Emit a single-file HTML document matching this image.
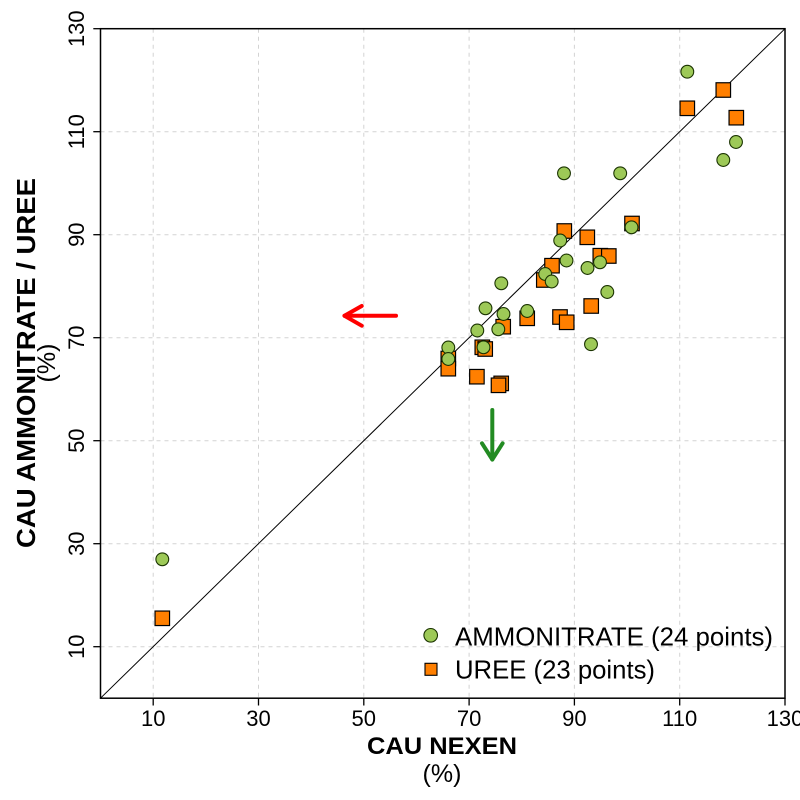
<!DOCTYPE html>
<html>
<head>
<meta charset="utf-8">
<style>
  html,body{margin:0;padding:0;background:#fff;}
  svg{display:block;font-family:"Liberation Sans",Arial,sans-serif;}
</style>
</head>
<body>
<svg width="800" height="800" viewBox="0 0 800 800" xmlns="http://www.w3.org/2000/svg">
  <rect x="0" y="0" width="800" height="800" fill="#fff"/>
  <!-- grid -->
  <g stroke="#d3d3d3" stroke-width="1" stroke-dasharray="4,4" fill="none">
    <line x1="153.2" y1="28.7" x2="153.2" y2="698.2"/>
    <line x1="258.5" y1="28.7" x2="258.5" y2="698.2"/>
    <line x1="363.8" y1="28.7" x2="363.8" y2="698.2"/>
    <line x1="469.1" y1="28.7" x2="469.1" y2="698.2"/>
    <line x1="574.4" y1="28.7" x2="574.4" y2="698.2"/>
    <line x1="679.7" y1="28.7" x2="679.7" y2="698.2"/>
    <line x1="100.5" y1="646.7" x2="785" y2="646.7"/>
    <line x1="100.5" y1="543.7" x2="785" y2="543.7"/>
    <line x1="100.5" y1="440.7" x2="785" y2="440.7"/>
    <line x1="100.5" y1="337.7" x2="785" y2="337.7"/>
    <line x1="100.5" y1="234.7" x2="785" y2="234.7"/>
    <line x1="100.5" y1="131.7" x2="785" y2="131.7"/>
  </g>
  <!-- diagonal -->
  <line x1="100.5" y1="698.2" x2="785" y2="28.7" stroke="#000" stroke-width="1"/>

  <!-- squares (UREE) -->
  <g fill="#FF7F00" stroke="#000" stroke-width="1.2">
    <rect x="155.05" y="611.05" width="14.5" height="14.5"/>
    <rect x="441.05" y="351.25" width="14.5" height="14.5"/>
    <rect x="441.05" y="361.45" width="14.5" height="14.5"/>
    <rect x="469.65" y="369.45" width="14.5" height="14.5"/>
    <rect x="493.95" y="376.15" width="14.5" height="14.5"/>
    <rect x="491.25" y="378.05" width="14.5" height="14.5"/>
    <rect x="475.05" y="340.05" width="14.5" height="14.5"/>
    <rect x="477.95" y="341.75" width="14.5" height="14.5"/>
    <rect x="495.95" y="319.45" width="14.5" height="14.5"/>
    <rect x="519.95" y="311.05" width="14.5" height="14.5"/>
    <rect x="536.55" y="272.75" width="14.5" height="14.5"/>
    <rect x="544.75" y="258.45" width="14.5" height="14.5"/>
    <rect x="552.75" y="309.75" width="14.5" height="14.5"/>
    <rect x="559.45" y="315.05" width="14.5" height="14.5"/>
    <rect x="557.05" y="223.75" width="14.5" height="14.5"/>
    <rect x="580.05" y="230.05" width="14.5" height="14.5"/>
    <rect x="583.95" y="298.75" width="14.5" height="14.5"/>
    <rect x="593.05" y="248.45" width="14.5" height="14.5"/>
    <rect x="601.55" y="248.75" width="14.5" height="14.5"/>
    <rect x="624.75" y="216.25" width="14.5" height="14.5"/>
    <rect x="680.05" y="101.05" width="14.5" height="14.5"/>
    <rect x="716.05" y="82.75" width="14.5" height="14.5"/>
    <rect x="729.05" y="110.45" width="14.5" height="14.5"/>
  </g>

  <!-- circles (AMMONITRATE) -->
  <g fill="#9DC957" stroke="#1a3300" stroke-width="1.1">
    <circle cx="162.3" cy="559.3" r="6.4"/>
    <circle cx="448.3" cy="347.5" r="6.4"/>
    <circle cx="448.3" cy="359" r="6.4"/>
    <circle cx="477.3" cy="330.5" r="6.4"/>
    <circle cx="483.5" cy="347.3" r="6.4"/>
    <circle cx="485.5" cy="308.3" r="6.4"/>
    <circle cx="498.3" cy="329.3" r="6.4"/>
    <circle cx="501.3" cy="283.3" r="6.4"/>
    <circle cx="503.5" cy="314" r="6.4"/>
    <circle cx="527.2" cy="311" r="6.4"/>
    <circle cx="545.2" cy="274" r="6.4"/>
    <circle cx="551.7" cy="281.5" r="6.4"/>
    <circle cx="560.2" cy="240.5" r="6.4"/>
    <circle cx="564" cy="173.3" r="6.4"/>
    <circle cx="566.5" cy="260.5" r="6.4"/>
    <circle cx="587.5" cy="268" r="6.4"/>
    <circle cx="591" cy="344.2" r="6.4"/>
    <circle cx="600" cy="262.3" r="6.4"/>
    <circle cx="607.3" cy="292" r="6.4"/>
    <circle cx="620.2" cy="173.3" r="6.4"/>
    <circle cx="631.5" cy="227.3" r="6.4"/>
    <circle cx="687.3" cy="71.7" r="6.4"/>
    <circle cx="723.3" cy="160" r="6.4"/>
    <circle cx="736" cy="142" r="6.4"/>
  </g>

  <!-- arrows -->
  <g stroke="#FF0000" stroke-width="4" fill="none" stroke-linecap="round">
    <line x1="396" y1="315.8" x2="345" y2="315.8"/>
    <line x1="344.5" y1="315.8" x2="361.7" y2="306"/>
    <line x1="344.5" y1="315.8" x2="361.7" y2="325.7"/>
  </g>
  <g stroke="#228B22" stroke-width="4" fill="none" stroke-linecap="round">
    <line x1="492.3" y1="410" x2="492.3" y2="459"/>
    <line x1="492.3" y1="459.5" x2="482" y2="443.3"/>
    <line x1="492.3" y1="459.5" x2="502.6" y2="443.3"/>
  </g>

  <!-- box -->
  <rect x="100.5" y="28.7" width="684.5" height="669.5" fill="none" stroke="#000" stroke-width="1.5"/>

  <!-- ticks -->
  <g stroke="#000" stroke-width="1.3">
    <line x1="153.2" y1="698.2" x2="153.2" y2="705.5"/>
    <line x1="258.5" y1="698.2" x2="258.5" y2="705.5"/>
    <line x1="363.8" y1="698.2" x2="363.8" y2="705.5"/>
    <line x1="469.1" y1="698.2" x2="469.1" y2="705.5"/>
    <line x1="574.4" y1="698.2" x2="574.4" y2="705.5"/>
    <line x1="679.7" y1="698.2" x2="679.7" y2="705.5"/>
    <line x1="785" y1="698.2" x2="785" y2="705.5"/>
    <line x1="93.3" y1="646.7" x2="100.5" y2="646.7"/>
    <line x1="93.3" y1="543.7" x2="100.5" y2="543.7"/>
    <line x1="93.3" y1="440.7" x2="100.5" y2="440.7"/>
    <line x1="93.3" y1="337.7" x2="100.5" y2="337.7"/>
    <line x1="93.3" y1="234.7" x2="100.5" y2="234.7"/>
    <line x1="93.3" y1="131.7" x2="100.5" y2="131.7"/>
    <line x1="93.3" y1="28.7" x2="100.5" y2="28.7"/>
  </g>

  <!-- x tick labels -->
  <g font-size="22" fill="#000" text-anchor="middle">
    <text x="153.2" y="726">10</text>
    <text x="258.5" y="726">30</text>
    <text x="363.8" y="726">50</text>
    <text x="469.1" y="726">70</text>
    <text x="574.4" y="726">90</text>
    <text x="679.7" y="726">110</text>
    <text x="785" y="726">130</text>
  </g>
  <!-- y tick labels -->
  <g font-size="22" fill="#000" text-anchor="middle">
    <text transform="translate(84,646.7) rotate(-90)">10</text>
    <text transform="translate(84,543.7) rotate(-90)">30</text>
    <text transform="translate(84,440.7) rotate(-90)">50</text>
    <text transform="translate(84,337.7) rotate(-90)">70</text>
    <text transform="translate(84,234.7) rotate(-90)">90</text>
    <text transform="translate(84,131.7) rotate(-90)">110</text>
    <text transform="translate(84,28.7) rotate(-90)">130</text>
  </g>

  <!-- axis titles -->
  <text x="442" y="754" font-size="24" font-weight="bold" text-anchor="middle" textLength="150" lengthAdjust="spacingAndGlyphs">CAU NEXEN</text>
  <text x="442" y="782" font-size="25" text-anchor="middle">(%)</text>
  <text transform="translate(35,363) rotate(-90)" font-size="26" font-weight="bold" text-anchor="middle" textLength="370" lengthAdjust="spacingAndGlyphs">CAU AMMONITRATE / UREE</text>
  <text transform="translate(55,363) rotate(-90)" font-size="25" text-anchor="middle">(%)</text>

  <!-- legend -->
  <circle cx="430.7" cy="635.3" r="6.8" fill="#9DC957" stroke="#1a3300" stroke-width="1.1"/>
  <rect x="425" y="663.3" width="12" height="12" fill="#FF7F00" stroke="#000" stroke-width="1.1"/>
  <text x="455" y="645.7" font-size="25.7" textLength="318" lengthAdjust="spacingAndGlyphs">AMMONITRATE (24 points)</text>
  <text x="455" y="678.3" font-size="25.7" textLength="200" lengthAdjust="spacingAndGlyphs">UREE (23 points)</text>
</svg>
</body>
</html>
